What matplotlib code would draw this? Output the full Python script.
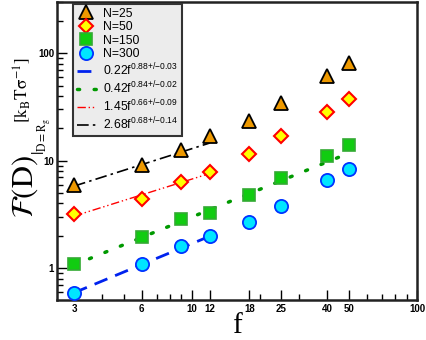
import matplotlib
matplotlib.use("Agg")
import matplotlib.pyplot as plt
from matplotlib.ticker import FixedLocator, NullFormatter, LogLocator, FixedFormatter

plt.rcParams['font.family'] = ['Liberation Sans', 'DejaVu Sans']
plt.rcParams['mathtext.fontset'] = 'custom'
plt.rcParams['mathtext.rm'] = 'Liberation Sans'
plt.rcParams['mathtext.it'] = 'Liberation Sans:italic'
plt.rcParams['mathtext.bf'] = 'Liberation Sans:bold'

# data
f_vals = [3, 6, 9, 12, 18, 25, 40, 50]
n25 = [6.0, 9.1, 12.6, 16.8, 23.6, 34.3, 61.5, 82.0]
n50 = [3.2, 4.4, 6.35, 7.8, 11.6, 16.8, 28.6, 37.8]
n150 = [1.09, 1.94, 2.87, 3.29, 4.77, 6.9, 11.1, 14.0]
n300 = [0.59, 1.09, 1.62, 2.0, 2.71, 3.8, 6.6, 8.3]

fit300_x = [3, 12]
fit300_y = [0.59, 1.98]
fit150_x = [3, 50]
fit150_y = [1.07, 11.8]
fit50_x = [3, 12]
fit50_y = [3.05, 7.6]
fit25_x = [3, 12]
fit25_y = [5.8, 14.6]

xticks = [3, 6, 10, 12, 18, 25, 40, 50, 100]
xticklabels = ['3', '6', '10', '12', '18', '25', '40', '50', '100']
yticks = [1, 10, 100]
yticklabels = ['1', '10', '100']

fig = plt.figure(figsize=(4.27, 3.4), dpi=100)
ax = fig.add_axes([57/427, 1-300/340, 360/427, 298/340])
ax.set_xscale('log')
ax.set_yscale('log')

h25, = ax.plot(f_vals, n25, ls='none', marker='^', ms=9.5, mfc='#ee9900', mec='black', mew=1.3, label='N=25', zorder=5)
h50, = ax.plot(f_vals, n50, ls='none', marker='D', ms=7, mfc='#ffff00', mec='#ff0000', mew=1.5, label='N=50', zorder=5)
h150, = ax.plot(f_vals, n150, ls='none', marker='s', ms=8.5, mfc='#11cc11', mec='#33aa33', mew=1.2, label='N=150', zorder=5)
h300, = ax.plot(f_vals, n300, ls='none', marker='o', ms=9.5, mfc='#00e5ff', mec='#0033ff', mew=1.3, label='N=300', zorder=5)

l1, = ax.plot(fit300_x, fit300_y, color='#0022ee', lw=2, ls=(0, (5, 3)), label=r'0.22f$^{\mathregular{0.88{+}/{-}0.03}}$', zorder=4)
l2, = ax.plot(fit150_x, fit150_y, color='#009900', lw=2.5, ls=(0, (0.6, 4.2)), dash_capstyle='round', label=r'0.42f$^{\mathregular{0.84{+}/{-}0.02}}$', zorder=4)
l3, = ax.plot(fit50_x, fit50_y, color='#ff0000', lw=1, ls=(0, (6, 2, 1, 2, 1, 2)), label=r'1.45f$^{\mathregular{0.66{+}/{-}0.09}}$', zorder=4)
l4, = ax.plot(fit25_x, fit25_y, color='black', lw=1.2, ls=(0, (7, 2.5, 1.5, 2.5)), label=r'2.68f$^{\mathregular{0.68{+}/{-}0.14}}$', zorder=4)

ax.set_xlim(2.52, 100)
ax.set_ylim(0.505, 300)

ax.xaxis.set_major_locator(FixedLocator(xticks))
ax.xaxis.set_major_formatter(FixedFormatter(xticklabels))
ax.xaxis.set_minor_locator(LogLocator(base=10, subs=range(2, 10)))
ax.xaxis.set_minor_formatter(NullFormatter())
ax.yaxis.set_major_locator(FixedLocator(yticks))
ax.yaxis.set_major_formatter(FixedFormatter(yticklabels))
ax.yaxis.set_minor_locator(LogLocator(base=10, subs=range(2, 10)))
ax.yaxis.set_minor_formatter(NullFormatter())

ax.tick_params(which='both', direction='in', top=False, right=False, width=1)
ax.tick_params(which='major', length=7, labelsize=7)
ax.tick_params(which='minor', length=4)
for lab in ax.get_xticklabels() + ax.get_yticklabels():
    lab.set_fontweight('bold')
ax.tick_params(axis='x', pad=3)
ax.tick_params(axis='y', pad=2)

for sp in ax.spines.values():
    sp.set_linewidth(1.8)
    sp.set_color('#222222')

leg = ax.legend(handles=[h25, h50, h150, h300, l1, l2, l3, l4], loc='upper left',
                bbox_to_anchor=(0.044, 0.993), fontsize=8.8, frameon=True, fancybox=False,
                handlelength=1.6, handletextpad=0.6, labelspacing=0.12, borderpad=0.3,
                borderaxespad=0.0)
leg.get_frame().set_facecolor('#ececec')
leg.get_frame().set_edgecolor('#333333')
leg.get_frame().set_linewidth(1.5)
leg.get_frame().set_alpha(1)

# axis labels
fig.text(237/427, 1/340, 'f', fontsize=21, ha='center', va='bottom',
         family='Liberation Serif')
fig.text(25/427, 1-187/340, r'$\mathcal{F}(\mathrm{D})$', fontsize=22,
         rotation=90, ha='center', va='center', math_fontfamily='stix')
fig.text(42/427, 1-136/340, r'$|_{\mathrm{D=R_g}}$', fontsize=12,
         rotation=90, ha='center', va='center', math_fontfamily='stix')
fig.text(22/427, 1-90/340, r'$[\mathrm{k_B T\sigma^{-1}}]$', fontsize=12.5,
         rotation=90, ha='center', va='center', math_fontfamily='stix')

fig.savefig('out.png', dpi=100)
